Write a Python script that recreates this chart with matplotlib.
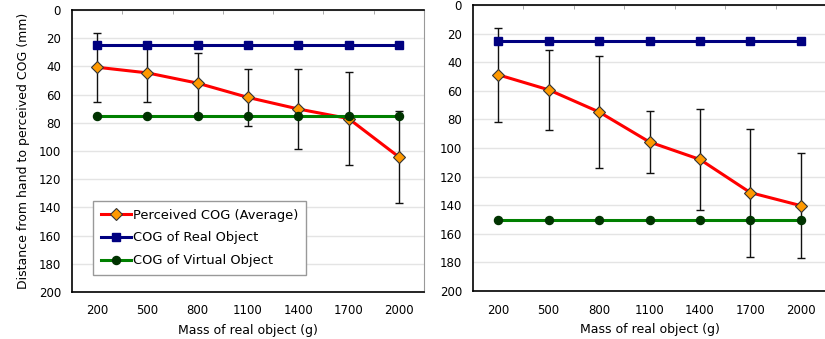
import numpy as np
import matplotlib
matplotlib.use('Agg')
import matplotlib.pyplot as plt

plt.rcParams['font.family'] = ['DejaVu Sans']

# data
masses = ['200', '500', '800', '1100', '1400', '1700', '2000']

left_perceived = [40.6, 44.6, 51.9, 62.0, 70.2, 77.0, 104.2]
left_err = [24.5, 21.0, 21.6, 20.5, 28.1, 32.8, 32.8]
left_real = [25, 25, 25, 25, 25, 25, 25]
left_virtual = [75, 75, 75, 75, 75, 75, 75]

right_perceived = [48.8, 59.3, 74.8, 95.8, 108.0, 131.2, 140.3]
right_err = [32.9, 28.0, 39.0, 21.7, 35.5, 44.8, 36.5]
right_real = [25, 25, 25, 25, 25, 25, 25]
right_virtual = [150, 150, 150, 150, 150, 150, 150]

yticks = list(range(0, 201, 20))

W, H = 825, 339
fig = plt.figure(figsize=(W / 100, H / 100), dpi=100)


def make_ax(px_left, px_right, px_top, px_bottom):
    return fig.add_axes([px_left / W, (H - px_bottom) / H,
                         (px_right - px_left) / W, (px_bottom - px_top) / H])


def draw(ax, perceived, err, real, virtual, show_legend):
    x = np.arange(len(masses))
    ax.set_xlim(-0.5, len(masses) - 0.5)
    ax.set_ylim(200, 0)
    ax.set_yticks(yticks)
    ax.yaxis.grid(True, color='#e4e4e4', linewidth=1.0)
    ax.set_axisbelow(True)

    ax.errorbar(x, perceived, yerr=err, fmt='none', ecolor='#111111',
                elinewidth=1.0, capsize=3, capthick=1.0, zorder=2)
    ax.plot(x, perceived, color='#ff0000', linewidth=2.2, marker='D',
            markersize=6, markerfacecolor='#ff9900', markeredgecolor='#333333',
            markeredgewidth=0.8, label='Perceived COG (Average)', zorder=3)
    ax.plot(x, real, color='#000080', linewidth=2.2, marker='s',
            markersize=5.8, markerfacecolor='#000080', markeredgecolor='#000080',
            label='COG of Real Object', zorder=4)
    ax.plot(x, virtual, color='#008000', linewidth=2.2, marker='o',
            markersize=5.8, markerfacecolor='#003300', markeredgecolor='#003300',
            label='COG of Virtual Object', zorder=4)

    ax.set_xticks(x)
    ax.set_xticklabels(masses)
    ax.set_xticks(np.arange(0.5, len(masses) - 0.5, 1.0), minor=True)
    ax.tick_params(axis='x', which='major', length=0, pad=9, labelsize=8.5)
    ax.tick_params(axis='x', which='minor', top=True, bottom=False,
                   direction='in', length=3, color='#999999')
    ax.tick_params(axis='y', length=0, pad=8, labelsize=8.5)

    for side in ['left', 'top', 'bottom']:
        ax.spines[side].set_color('black')
        ax.spines[side].set_linewidth(1.2)
    ax.spines['right'].set_color('#999999')

    ax.set_xlabel('Mass of real object (g)', fontsize=9, labelpad=5)

    if show_legend:
        leg = ax.legend(loc='lower left', bbox_to_anchor=(0.06, 0.06),
                        borderaxespad=0, fontsize=9.4, frameon=True,
                        fancybox=False, edgecolor='#999999',
                        handlelength=2.3, handletextpad=0.15,
                        labelspacing=0.75, borderpad=0.6)
        leg.get_frame().set_linewidth(1.0)
        leg.get_frame().set_facecolor('white')
        leg.get_frame().set_alpha(1)


ax1 = make_ax(72, 424, 10, 292)
draw(ax1, left_perceived, left_err, left_real, left_virtual, True)
ax1.set_ylabel('Distance from hand to perceived COG (mm)', fontsize=9, labelpad=6)

ax2 = make_ax(473, 826, 5, 291)
draw(ax2, right_perceived, right_err, right_real, right_virtual, False)

fig.savefig('out.png', dpi=100)
